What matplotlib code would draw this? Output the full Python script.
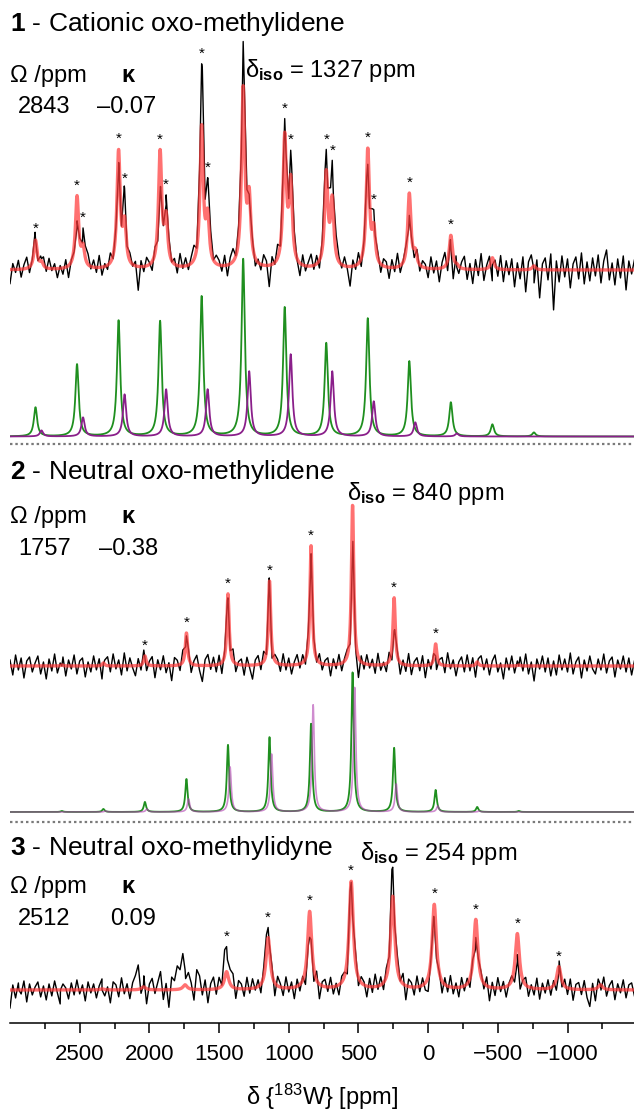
import numpy as np
import matplotlib
matplotlib.use("Agg")
import matplotlib.pyplot as plt

plt.rcParams["font.family"] = ["Liberation Sans", "DejaVu Sans"]
plt.rcParams["mathtext.fontset"] = "custom"
plt.rcParams["mathtext.rm"] = "Liberation Sans"
plt.rcParams["mathtext.it"] = "Liberation Sans:italic"
plt.rcParams["mathtext.bf"] = "Liberation Sans:bold"

SPIN = 298.0  # sideband spacing in ppm

# ---- 1 : cationic oxo-methylidene (two W sites) ----
iso_1a, iso_1b = 1327, 1284
orders_1a = np.arange(5, -8, -1)
orders_1b = np.arange(5, -6, -1)
sim_1a = [29, 72, 116, 115, 140, 177, 129, 93, 118, 75, 34, 12, 4]
sim_1b = [6, 19, 42, 47, 47, 65, 82, 65, 35, 14, 3]
exp_1a = [30, 45, 92, 70, 198, 222, 140, 110, 100, 53, 22, 5, 0]
exp_1b = [8, 37, 72, 67, 72, 53, 105, 98, 50, 10, 0]
stars_1a = [5, 4, 3, 2, 1, -1, -2, -3, -4, -5]
stars_1b = [4, 3, 2, 1, -1, -2, -3]
noise_1 = [-14, 6, -3, 9, -8, 4, 11, -6, 2, 8, -5, 3, 7, -4, 10,
           -2, 5, -9, 3, -6, 8, -11, 4, 2, -7, 6, -13, 5, 9, -3,
           7, -5, 12, -8, 3, -4, 10, -2, 6, 8, -6, 3, -9, 5, -3,
           4, -24, 6, -5, 9, 3, -7, 11, -4, 8, 2, -10, 6, -3, 5,
           -8, 12, -3, 7, -6, 4, 10, -9, 3, 15, -5, 2, 8, -4, 6,
           3, -7, 9, -12, 5, 11, -3, 7, -5, 4, 9, -2, 6, -8, 3,
           -6, 10, 4, -22, 7, -3, 12, -5, 6, 2, -9, 5, 8, -4, -14,
           9, -6, 3, 11, -5, 7, -10, 4, 13, -3, 6, -7, 10, 2, -5,
           8, -3, -20, 6, -4, 11, -7, 5, 9, -2, 12, -6, 4, -9, 7,
           5, -11, 8, -4, 14, -6, 3, 10, -8, 6, -3, 11, -5, 7, 4,
           -9, 12, -4, 8, -13, 6, 15, -7, 9, -18, 11, -5, 7, 13, -10,
           6, -14, 10, -6, 16, -11, 4, 12, -16, 8, -7, 14, -12, 9, -5,
           11, -17, 7, -9, 13, -22, 8, 15, -13, 10, -28, 6, 12, -10, 16,
           -40, 9, -12, 14, -7, 11, -18, 6, 13, -9, 17, -14, 8, -11, 12,
           -6, 15, -13, 9, 20, -10, 7, -15, 11, -8, 14, -20, 9, -4, 10]

# ---- 2 : neutral oxo-methylidene ----
iso_2a, iso_2b = 542, 527
orders_2 = np.arange(7, -5, -1)
fit_2 = [1, 3, 10, 33, 72, 85, 120, 161, 68, 22, 4, 1]
exp_2 = [0, 2, 8, 30, 68, 83, 112, 118, 35, 10, 2, 0]
sim_2a = [1, 3, 10, 33, 67, 75, 88, 140, 64, 22, 5, 1]
sim_2b = [0, 1, 3, 13, 45, 58, 107, 125, 28, 6, 1, 0]
stars_2 = [5, 4, 3, 2, 1, -1, -2]
noise_2 = [6, -9, 11, -4, 8, -12, 5, 9, -6, 3, 10, -8, 4, -13, 7,
           -5, 12, -7, 3, 9, -10, 6, -3, 11, -8, 5, 8, -11, 4, -6,
           10, -4, 7, -14, 5, 9, -6, 12, -3, 6, -9, 13, -5, 8, -2,
           -10, 7, -5, 11, -8, 4, 9, -12, 6, -4, 10, -7, 3, -15, 8,
           5, -6, 12, -3, 7, -9, 4, 10, -5, -16, 6, 11, -4, 8, -7,
           9, -11, 5, 7, -4, 12, -8, 3, 6, -10, 8, -3, -14, 5, 9,
           -6, 10, -3, 8, -12, 6, 4, -7, 11, -5, 7, -9, 3, 10, -4,
           8, -5, 12, -8, 5, -3, 9, -6, 4, 7, -11, 6, -4, 10, -7,
           4, 9, -6, 11, -4, -18, 7, -5, 10, -3, 6, -8, 12, -5, 3,
           -7, 11, -4, 6, 9, -10, 5, -6, 12, -9, 4, 8, -5, 10, -12,
           6, -4, 9, -11, 5, 8, -7, 13, -3, 6, -10, 4, 9, -6, 11,
           -5, 8, -12, 6, 10, -4, 7, -9, 5, 11, -6, 3, -13, 8, -4,
           10, -7, 5, 9, -5, 12, -8, 4, -15, 7, -3, 10, -6, 8, -10,
           5, -9, 11, -4, 7, -6, 13, -8, 4, 9, -12, 6, -5, 10, -3,
           -8, 7, -4, 12, -7, 5, 9, -11, 6, -3, 10, -6, 8, -9, 5]

# ---- 3 : neutral oxo-methylidyne ----
iso_3 = 254
orders_3 = np.arange(9, -6, -1)
fit_3 = [0, 0, 1, 3, 5, 18, 52, 78, 108, 93, 85, 70, 56, 23, 5]
exp_3 = [0, 0, 0, 5, 20, 43, 62, 52, 107, 122, 67, 52, 28, 17, 5]
stars_3 = [4, 3, 2, 1, -1, -2, -3, -4]
noise_3 = [-18, 5, -8, 7, -4, 9, -12, 6, -5, 3, 8, -7, 4, -10, 6,
           -6, 9, -3, -14, 6, 2, -9, 7, -5, 10, -4, 5, -11, 8, -3,
           6, -8, 4, 11, -6, 3, -13, 8, 5, -7, 12, -4, 6, -9, 7,
           14, 24, -6, 9, -16, 5, 11, -4, 7, 18, -10, 6, -18, 12, 8,
           22, 16, 25, -8, 10, 4, -12, 19, 13, -6, 9, -14, 5, 11, -7,
           8, -5, 13, -9, 6, 10, -12, 7, 4, -8, 11, -5, 9, -3, 6,
           -10, 7, 12, -6, 5, -14, 9, 3, -8, 11, -4, 6, -11, 8, -5,
           7, -9, 4, 10, -6, 12, -13, 5, 8, -4, 10, -7, 3, -10, 6,
           4, -16, 9, -5, 11, -8, 6, 3, -11, 8, -6, 12, -4, 7, -9,
           5, -7, 10, -12, 6, -4, 9, -15, 7, 4, -8, 11, -5, 8, -6,
           -12, 6, 9, -7, 4, -10, 8, -5, 12, -6, 5, -9, 10, -4, 7,
           -6, 9, -11, 5, 8, -4, 10, -13, 6, -7, 11, -3, 7, -9, 4,
           9, -5, 7, -12, 5, 10, -8, 4, -6, 11, -10, 6, -4, 9, -7,
           6, -9, 12, -4, 8, -6, 10, -11, 5, 7, -5, 9, -8, -17, 6,
           -12, 8, -5, 11, -7, 4, 9, -10, 6, -3, 10, -8, 5, 7, -6]

grid = np.arange(3000, -1481, -20)   # sampling of the measured spectra
ppm = np.linspace(3000, -1480, 3000)  # sampling of fits / simulations


def lines(x, iso, orders, heights, hw):
    pos = iso + SPIN * np.asarray(orders, dtype=float)
    x = np.atleast_1d(np.asarray(x, dtype=float))[:, None]
    return (np.asarray(heights, dtype=float) / (1 + ((x - pos) / hw) ** 2)).sum(axis=1)


def measured(noise, hw, sites):
    centres = np.concatenate([iso + SPIN * np.asarray(o) for iso, o, h in sites])
    xs = np.concatenate([grid, centres])
    ys = np.concatenate([np.asarray(noise, float), np.zeros(len(centres))])
    for iso, o, h in sites:
        ys = ys + lines(xs, iso, o, h, hw)
    idx = np.argsort(-xs)
    return xs[idx], ys[idx]


def stars(base, iso, star_orders, curves):
    for o in star_orders:
        x0 = iso + SPIN * o
        top = max(c(x0) for c in curves)
        ax.text(x0, base + top + 10, "*", ha="center", va="center", fontsize=11)


fig = plt.figure(figsize=(6.34, 11.15), dpi=100)
ax = fig.add_axes([10 / 634, 92 / 1115, 624 / 634, 1023 / 1115])
ax.set_xlim(3000, -1477)
ax.set_ylim(0, 1023)

RED = dict(color="#ff3b3b", lw=2.4, alpha=0.72)
BLK = dict(color="k", lw=1.0)
TXT = 17

# panel 1
b1, s1 = 753, 586.5
hw1 = 14
x, y = measured(noise_1, hw1, [(iso_1a, orders_1a, exp_1a), (iso_1b, orders_1b, exp_1b)])
ax.plot(x, b1 + y, **BLK)
ga = lines(ppm, iso_1a, orders_1a, sim_1a, hw1)
gb = lines(ppm, iso_1b, orders_1b, sim_1b, hw1)
ax.plot(ppm, b1 + ga + gb, **RED)
ax.plot(ppm, s1 + ga, color="#1f8f1f", lw=1.3)
ax.plot(ppm, s1 + gb, color="#8a1f8a", lw=1.3)


def exp1(v):
    return (lines(v, iso_1a, orders_1a, exp_1a, hw1) + lines(v, iso_1b, orders_1b, exp_1b, hw1))[0]


def fit1(v):
    return (lines(v, iso_1a, orders_1a, sim_1a, hw1) + lines(v, iso_1b, orders_1b, sim_1b, hw1))[0]


stars(b1, iso_1a, stars_1a, [exp1, fit1])
stars(b1, iso_1b, stars_1b, [exp1, fit1])
ax.axhline(579, color="#7a7a7a", lw=1.6, ls=(0, (1.1, 1.3)))

# panel 2
b2, s2 = 357, 211
hw2 = 10
x, y = measured(noise_2, hw2, [(iso_2a, orders_2, exp_2)])
ax.plot(x, b2 + y, **BLK)
ax.plot(ppm, b2 + lines(ppm, iso_2a, orders_2, fit_2, hw2), **RED)
ax.plot(ppm, s2 + lines(ppm, iso_2a, orders_2, sim_2a, hw2), color="#1f8f1f", lw=1.3)
ax.plot(ppm, s2 + lines(ppm, iso_2b, orders_2, sim_2b, hw2), color="#b040b0", lw=1.2, alpha=0.6)
stars(b2, iso_2a, stars_2,
      [lambda v: lines(v, iso_2a, orders_2, exp_2, hw2)[0],
       lambda v: lines(v, iso_2a, orders_2, fit_2, hw2)[0]])
ax.axhline(201, color="#7a7a7a", lw=1.6, ls=(0, (1.1, 1.3)))

# panel 3
b3 = 33
hw3 = 18
x, y = measured(noise_3, hw3, [(iso_3, orders_3, exp_3)])
ax.plot(x, b3 + y, **BLK)
ax.plot(ppm, b3 + lines(ppm, iso_3, orders_3, fit_3, hw3), **RED)
stars(b3, iso_3, stars_3,
      [lambda v: lines(v, iso_3, orders_3, exp_3, hw3)[0],
       lambda v: lines(v, iso_3, orders_3, fit_3, hw3)[0]])

# labels
titles = [r"$\mathbf{1}$ - Cationic oxo-methylidene",
          r"$\mathbf{2}$ - Neutral oxo-methylidene",
          r"$\mathbf{3}$ - Neutral oxo-methylidyne"]
omega = ["2843", "1757", "2512"]
kappa = ["\u20130.07", "\u20130.38", "0.09"]
kappa_x = [2376, 2361, 2283]
shifts = ["1327", "840", "254"]
shift_x = [1314, 582, 489]
y_title = [992, 544, 168]
y_head = [941, 500, 130]
y_vals = [910, 468, 98]
y_shift = [946, 523, 163]
for i in range(3):
    ax.text(3000, y_title[i], titles[i], fontsize=19, va="baseline")
    ax.text(3000, y_head[i], "\u03a9 /ppm", fontsize=TXT, va="baseline")
    ax.text(2204, y_head[i], "\u03ba", fontsize=TXT, va="baseline", fontweight="bold")
    ax.text(2943, y_vals[i], omega[i], fontsize=TXT, va="baseline")
    ax.text(kappa_x[i], y_vals[i], kappa[i], fontsize=TXT, va="baseline")
    ax.text(shift_x[i], y_shift[i], r"$\mathrm{\delta}_{\mathbf{iso}}$ = " + shifts[i] + " ppm",
            fontsize=TXT, va="baseline")

for s in ["left", "right", "top"]:
    ax.spines[s].set_visible(False)
ax.spines["bottom"].set_linewidth(1.1)
ax.set_yticks([])
ax.set_xticks([2500, 2000, 1500, 1000, 500, 0, -500, -1000])
ax.set_xticks([2750, 2250, 1750, 1250, 750, 250, -250, -750, -1250], minor=True)
ax.tick_params(axis="x", which="major", length=7, width=1.1, labelsize=16, pad=8)
ax.tick_params(axis="x", which="minor", length=4, width=1.1)
ax.set_xlabel(r"$\mathrm{\delta}$ {$^{183}$W} [ppm]", fontsize=TXT, labelpad=12)

fig.savefig("out.png", dpi=100)
